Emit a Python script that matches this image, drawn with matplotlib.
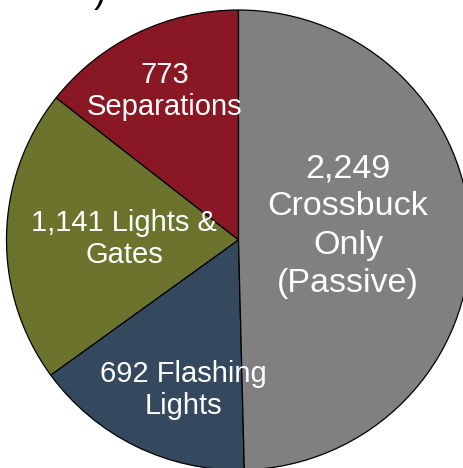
import matplotlib
matplotlib.use('Agg')
import matplotlib.pyplot as plt

plt.rcParams['font.family'] = ['Liberation Sans', 'DejaVu Sans']

# crossing counts (label values) and wedge shares as drawn in the picture (%)
categories = ['Separations', 'Lights &\nGates', 'Flashing\nLights', 'Crossbuck\nOnly\n(Passive)']
counts = [773, 1141, 692, 2249]
shares = [14.4, 20.6, 15.4, 49.6]
colors = ['#8a1824', '#6b732d', '#34495e', '#808080']

labels = ['%s\nSeparations' % format(counts[0], ','),
          '%s Lights &\nGates' % format(counts[1], ','),
          '%s Flashing\nLights' % format(counts[2], ','),
          '%s\nCrossbuck\nOnly\n(Passive)' % format(counts[3], ',')]
label_pos = [(-0.317, 0.648), (-0.494, 0.004), (-0.239, -0.652), (0.472, 0.061)]
label_size = [21, 21, 21, 24.5]
label_ls = [1.18, 1.18, 1.22, 1.3]

fig = plt.figure(figsize=(4.64, 4.68), dpi=100)
# axes box = bounding box of the (slightly oval) pie, partly off the canvas
ax = fig.add_axes([6.5/464, -2/468, 464/464, 460/468])

wedges, _ = ax.pie(shares, colors=colors, startangle=90, counterclock=True,
                   wedgeprops=dict(edgecolor='black', linewidth=0.9))
ax.set_aspect('auto')
ax.set_xlim(-1, 1)
ax.set_ylim(-1, 1)
ax.axis('off')

for t, (x, y), fs, ls in zip(labels, label_pos, label_size, label_ls):
    ax.text(x, y, t, ha='center', va='center', color='white', fontsize=fs,
            linespacing=ls, multialignment='center')

# tail of the cut-off title above the chart
fig.text(100/464, 1 - 2/468, ')', ha='center', va='baseline', fontsize=26, color='black')

fig.savefig('out.png', dpi=100)
